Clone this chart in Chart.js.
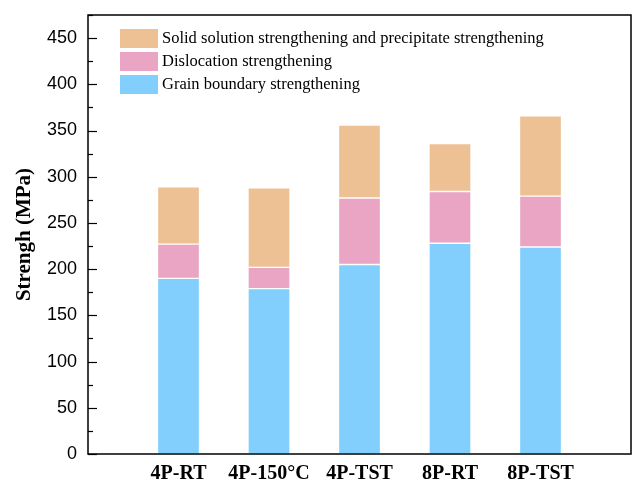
<!DOCTYPE html>
<html>
<head>
<meta charset="utf-8">
<script src="https://cdn.jsdelivr.net/npm/chart.js@4"></script>
<style>
  html, body { margin: 0; padding: 0; background: #fff; }
  #wrap { width: 633px; height: 482px; position: relative; }
</style>
</head>
<body>
<div id="wrap"><canvas id="strengthChart"></canvas></div>
<script>
// empty slots at both ends leave the gap seen in the original figure
const categories = ['', '4P-RT', '4P-150°C', '4P-TST', '8P-RT', '8P-TST', ''];
const grainBoundary = [null, 190, 179, 205, 228, 224, null];
const dislocation = [null, 37, 23, 72, 56, 55, null];
const solidPrecip = [null, 62, 86, 79, 52, 87, null];

const yMin = 0;
const yMax = 475;
const yStep = 50;

const seriesNames = [
    'Grain boundary strengthening',
    'Dislocation strengthening',
    'Solid solution strengthening and precipitate strengthening',
];
const seriesColors = ['#82CFFD', '#E9A5C3', '#EDC194'];

// frame, inward ticks and the legend box inside the plot
const framePlugin = {
    id: 'frame',
    afterDraw(chart) {
        const ctx = chart.ctx;
        const area = chart.chartArea;
        const y = chart.scales.y;
        ctx.save();
        ctx.strokeStyle = '#000';
        ctx.lineWidth = 1.5;
        ctx.strokeRect(area.left, area.top, area.right - area.left, area.bottom - area.top);

        ctx.lineWidth = 1.2;
        for (let v = yMin; v <= yMax; v += yStep / 2) {
            const py = Math.round(y.getPixelForValue(v)) + 0.5;
            const len = (v % yStep === 0) ? 9 : 5;
            ctx.beginPath();
            ctx.moveTo(area.left, py);
            ctx.lineTo(area.left + len, py);
            ctx.stroke();
        }

        // legend, top entry is the top of the stack
        ctx.font = '16.5px "Liberation Serif", "Times New Roman", serif';
        ctx.textBaseline = 'middle';
        ctx.textAlign = 'left';
        const sets = chart.data.datasets.slice().reverse();
        sets.forEach((ds, i) => {
            const top = 29 + i * 23;
            ctx.fillStyle = ds.backgroundColor;
            ctx.fillRect(120, top, 38, 19);
            ctx.fillStyle = '#000';
            ctx.fillText(ds.label, 162, top + 10);
        });
        ctx.restore();
    }
};

const noPad = (s) => {
    s.paddingTop = 0;
    s.paddingBottom = 0;
    s.paddingLeft = 0;
    s.paddingRight = 0;
};

const renderStrengthChart = () => {
    var ctx = document.getElementById('strengthChart').getContext('2d');
    const sets = [grainBoundary, dislocation, solidPrecip].map((data, i) => ({
        label: seriesNames[i],
        data: data,
        backgroundColor: seriesColors[i],
        borderColor: 'rgba(255,255,255,0.5)',
        borderWidth: 1,
        barThickness: 42,
        borderSkipped: false,
    }));

    new Chart(ctx, {
        type: 'bar',
        data: { labels: categories, datasets: sets },
        options: {
            responsive: true,
            maintainAspectRatio: false,
            animation: false,
            layout: { padding: { top: 15, right: 2, left: 0, bottom: 0 } },
            plugins: {
                legend: { display: false },
                tooltip: { enabled: false },
            },
            scales: {
                x: {
                    stacked: true,
                    offset: false,
                    grid: { display: false, drawTicks: false },
                    border: { display: false },
                    ticks: {
                        color: '#000',
                        padding: 8,
                        autoSkip: false,
                        maxRotation: 0,
                        font: { family: '"Liberation Serif", "Times New Roman", serif', size: 20, weight: 'bold' },
                    },
                    afterFit: (s) => { s.height = 28; noPad(s); },
                },
                y: {
                    stacked: true,
                    min: yMin,
                    max: yMax,
                    grid: { display: false, drawTicks: false },
                    border: { display: false },
                    ticks: {
                        stepSize: yStep,
                        includeBounds: false,
                        color: '#000',
                        padding: 11,
                        font: { family: '"Liberation Sans", Arial, sans-serif', size: 18 },
                    },
                    afterBuildTicks: (s) => {
                        s.ticks = s.ticks.filter((t) => t.value % yStep === 0);
                    },
                    title: {
                        display: true,
                        text: 'Strengh (MPa)',
                        color: '#000',
                        padding: { top: 12, bottom: 0 },
                        font: { family: '"Liberation Serif", "Times New Roman", serif', size: 21, weight: 'bold' },
                    },
                    afterFit: (s) => { s.width = 88; noPad(s); },
                },
            },
        },
        plugins: [framePlugin],
    });
};

window.addEventListener('load', renderStrengthChart);
</script>
</body>
</html>
